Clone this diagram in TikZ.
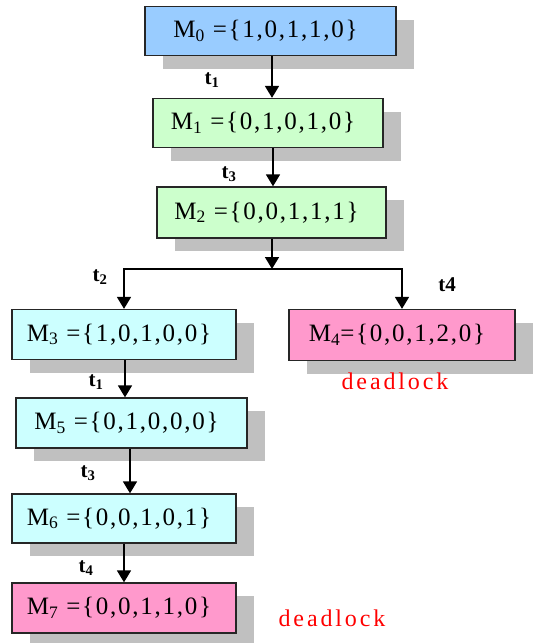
\documentclass[tikz,border=0pt]{standalone}
\usepackage{fontspec}
\setmainfont{Liberation Serif}
\usetikzlibrary{arrows.meta,shadows}
\definecolor{mblue}{HTML}{99CCFF}
\definecolor{mgreen}{HTML}{CCFFCC}
\definecolor{mcyan}{HTML}{CCFFFF}
\definecolor{mpink}{HTML}{FF99CC}
\definecolor{shad}{HTML}{C0C0C0}
\definecolor{dlred}{HTML}{FF0000}
\tikzset{
  mbox/.style={draw=black!85, line width=1.3pt, minimum height=49pt, inner sep=0pt,
    font=\fontsize{25}{28}\selectfont\addfontfeature{LetterSpace=7},
    drop shadow={shadow xshift=18pt, shadow yshift=-13pt, fill=shad, opacity=1}},
  arr/.style={line width=1.6pt, -{Triangle[width=14pt,length=12pt]}},
  tlab/.style={font=\fontsize{21}{24}\selectfont\bfseries, inner sep=0pt},
  dlab/.style={font=\fontsize{24}{27}\selectfont\addfontfeature{LetterSpace=12}, text=dlred, inner sep=0pt}
}
\newcommand{\mtext}[1]{#1\hspace*{10pt}}
\begin{document}
\begin{tikzpicture}[x=1pt,y=-1pt]
\useasboundingbox[fill=white] (0,0) rectangle (540,643);
\node[mbox, fill=mblue, minimum width=251pt] (M0) at (270.5,31) {\mtext{M\textsubscript{0} =\{1,0,1,1,0\}}};
\node[mbox, fill=mgreen, minimum width=230pt] (M1) at (268,123) {\mtext{M\textsubscript{1} =\{0,1,0,1,0\}}};
\node[mbox, fill=mgreen, minimum width=229pt, minimum height=51pt] (M2) at (271.5,212.5) {\mtext{M\textsubscript{2} =\{0,0,1,1,1\}}};
\node[mbox, fill=mcyan, minimum width=224pt, minimum height=50pt] (M3) at (124,334.5) {\mtext{M\textsubscript{3} =\{1,0,1,0,0\}}};
\node[mbox, fill=mpink, minimum width=226pt, minimum height=51pt] (M4) at (402,335) {\mtext{M\textsubscript{4}=\{0,0,1,2,0\}}};
\node[mbox, fill=mcyan, minimum width=231pt, minimum height=50pt] (M5) at (131.5,423) {\mtext{M\textsubscript{5} =\{0,1,0,0,0\}}};
\node[mbox, fill=mcyan, minimum width=224pt] (M6) at (124,518.5) {\mtext{M\textsubscript{6} =\{0,0,1,0,1\}}};
\node[mbox, fill=mpink, minimum width=224pt, minimum height=50pt] (M7) at (124,608) {\mtext{M\textsubscript{7} =\{0,0,1,1,0\}}};

\coordinate (a01) at (272,0);
\coordinate (a12) at (273,0);
\coordinate (bar) at (272,269);
\coordinate (a35) at (125,0);
\coordinate (a56) at (130,0);
\coordinate (a67) at (124,0);

\draw[arr] (M0.south -| a01) -- (M1.north -| a01);
\draw[arr] (M1.south -| a12) -- (M2.north -| a12);
\draw[arr] (M2.south -| bar) -- (bar);
\draw[arr] (bar) -| (M3.north);
\draw[arr] (bar) -| (M4.north);
\draw[arr] (M3.south -| a35) -- (M5.north -| a35);
\draw[arr] (M5.south -| a56) -- (M6.north -| a56);
\draw[arr] (M6.south -| a67) -- (M7.north -| a67);

\node[tlab] (t1a) at (212,80) {t\textsubscript{1}};
\node[tlab] (t3a) at (229,174) {t\textsubscript{3}};
\node[tlab] (t2) at (100,277) {t\textsubscript{2}};
\node[tlab] (t4a) at (447,285) {t4};
\node[tlab] (t1b) at (96,382) {t\textsubscript{1}};
\node[tlab] (t3b) at (88,473) {t\textsubscript{3}};
\node[tlab] (t4b) at (86,568) {t\textsubscript{4}};

\node[dlab] (d1) at (395,381) {deadlock};
\node[dlab] (d2) at (332,618) {deadlock};
\end{tikzpicture}
\end{document}
